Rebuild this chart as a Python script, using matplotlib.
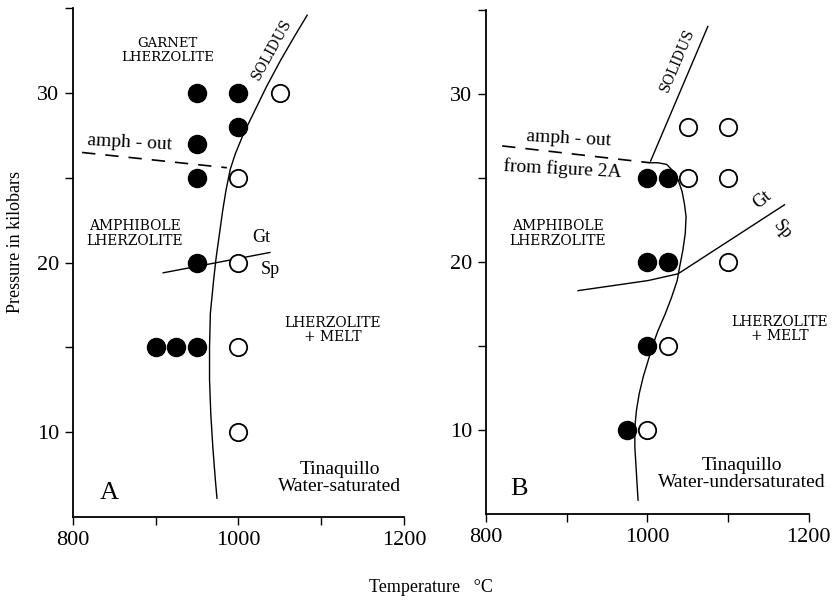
import numpy as np
import matplotlib
matplotlib.use("Agg")
import matplotlib.pyplot as plt

plt.rcParams["font.family"] = ["Liberation Serif", "DejaVu Serif"]
CAPS = ["DejaVu Serif"]

# ---- panel A : water-saturated ----
a_fill_T = [950, 1000, 1000, 950, 950, 950, 900, 925, 950]
a_fill_P = [30, 30, 28, 27, 25, 20, 15, 15, 15]
a_open_T = [1050, 1000, 1000, 1000, 1000]
a_open_P = [30, 25, 20, 15, 10]

a_sol_T = [1083, 1067, 1051, 1034, 1018, 1006, 996, 990, 985, 981, 977, 973, 970,
           966, 965, 965, 966.5, 969, 972, 974]
a_sol_P = [34.6, 33.3, 31.95, 30.4, 28.8, 27.6, 26.4, 25.5, 24.3, 23.1, 21.7, 20.3, 19.0,
           17.0, 15.0, 13.1, 11.1, 9.1, 7.2, 6.1]
a_amph_T = [811, 986]
a_amph_P = [26.5, 25.6]
a_gtsp_T = [909, 1038]
a_gtsp_P = [19.4, 20.6]

# ---- panel B : water-undersaturated ----
b_fill_T = [1000, 1025, 1000, 1025, 1000, 975]
b_fill_P = [25, 25, 20, 20, 15, 10]
b_open_T = [1050, 1100, 1050, 1100, 1100, 1025, 1000]
b_open_P = [28, 28, 25, 25, 20, 15, 10]

b_sol_up_T = [1075, 1004]
b_sol_up_P = [34.0, 26.0]
b_sol_T = [1003, 1013, 1024, 1032, 1038, 1043, 1046, 1048, 1047, 1044, 1040, 1037,
           1030, 1022, 1013, 1007, 1001, 995, 990, 986.5, 984.5, 984.5, 986, 987.5, 988.5]
b_sol_P = [25.9, 25.9, 25.8, 25.4, 24.9, 24.2, 23.45, 22.7, 21.7, 20.7, 19.7, 18.9,
           17.9, 16.9, 15.9, 15.1, 14.15, 13.2, 12.2, 11.2, 10.2, 9.0, 7.8, 6.6, 5.85]
b_amph_T = [820, 1003]
b_amph_P = [26.9, 25.9]
b_gtsp_T = [914, 1001, 1038, 1170]
b_gtsp_P = [18.3, 18.9, 19.3, 23.4]

xticks = [800, 900, 1000, 1100, 1200]
xlabels = ["800", "", "1000", "", "1200"]
yticks = [10, 15, 20, 25, 30, 35]
ylabels = ["10", "", "20", "", "30", ""]

fig = plt.figure(figsize=(8.38, 6.01), dpi=100)
axA = fig.add_axes([0.0871, 0.140, 0.395, 0.846])
axB = fig.add_axes([0.580, 0.144, 0.385, 0.840])


def style(ax):
    ax.set_xlim(800, 1200)
    ax.set_ylim(5, 35)
    for s in ["top", "right"]:
        ax.spines[s].set_visible(False)
    for s in ["left", "bottom"]:
        ax.spines[s].set_linewidth(1.3)
    ax.set_xticks(xticks)
    ax.set_xticklabels(xlabels, fontsize=16)
    ax.set_yticks(yticks)
    ax.set_yticklabels(ylabels, fontsize=16)
    ax.tick_params(length=6, width=1.0, pad=4)


def dots(ax, ft, fp, ot, op):
    ax.plot(ft, fp, "o", ms=13, mfc="black", mec="black", ls="none", zorder=4)
    ax.plot(ot, op, "o", ms=12.5, mfc="white", mec="black", mew=1.3, ls="none", zorder=4)


# panel A
style(axA)
axA.plot(a_sol_T, a_sol_P, color="black", lw=1.0)
axA.plot(a_amph_T, a_amph_P, color="black", lw=1.2, dashes=(8, 6))
axA.plot(a_gtsp_T, a_gtsp_P, color="black", lw=1.0)
dots(axA, a_fill_T, a_fill_P, a_open_T, a_open_P)
axA.text(914, 32.5, "GARNET\nLHERZOLITE", ha="center", va="center", fontsize=9.5,
         linespacing=1.1, family=CAPS)
axA.text(1040, 32.6, "SOLIDUS", ha="center", va="center", fontsize=10, rotation=61, family=CAPS)
axA.text(869, 27.1, "amph - out", ha="center", va="center", fontsize=14, rotation=-3)
axA.text(875, 21.7, "AMPHIBOLE\nLHERZOLITE", ha="center", va="center", fontsize=10,
         linespacing=1.1, family=CAPS)
axA.text(1027, 21.5, "Gt", ha="center", va="center", fontsize=13)
axA.text(1039, 19.6, "Sp", ha="center", va="center", fontsize=13)
axA.text(1114, 16.0, "LHERZOLITE\n+ MELT", ha="center", va="center", fontsize=10,
         linespacing=1.0, family=CAPS)
axA.text(1122, 7.3, "Tinaquillo\nWater-saturated", ha="center", va="center", fontsize=14,
         linespacing=1.05)
axA.text(832, 6.4, "A", ha="left", va="center", fontsize=19)

# panel B
style(axB)
axB.plot(b_sol_up_T, b_sol_up_P, color="black", lw=1.0)
axB.plot(b_sol_T, b_sol_P, color="black", lw=1.0)
axB.plot(b_amph_T, b_amph_P, color="black", lw=1.2, dashes=(8, 6))
axB.plot(b_gtsp_T, b_gtsp_P, color="black", lw=1.0)
dots(axB, b_fill_T, b_fill_P, b_open_T, b_open_P)
axB.text(1037, 32.0, "SOLIDUS", ha="center", va="center", fontsize=10, rotation=67, family=CAPS)
axB.text(903, 27.3, "amph - out", ha="center", va="center", fontsize=14, rotation=-3)
axB.text(895, 25.5, "from figure 2A", ha="center", va="center", fontsize=14, rotation=-3)
axB.text(889, 21.7, "AMPHIBOLE\nLHERZOLITE", ha="center", va="center", fontsize=10,
         linespacing=1.1, family=CAPS)
axB.text(1143, 23.7, "Gt", ha="center", va="center", fontsize=13, rotation=40)
axB.text(1167, 21.9, "Sp", ha="center", va="center", fontsize=13, rotation=-50)
axB.text(1164, 16.0, "LHERZOLITE\n+ MELT", ha="center", va="center", fontsize=10,
         linespacing=1.0, family=CAPS)
axB.text(1117, 7.4, "Tinaquillo\nWater-undersaturated", ha="center", va="center", fontsize=14,
         linespacing=1.05)
axB.text(830, 6.5, "B", ha="left", va="center", fontsize=19)

fig.text(0.018, 0.597, "Pressure in kilobars", rotation=90, ha="center", va="center", fontsize=13)
fig.text(0.514, 0.022, "Temperature   \u00b0C", ha="center", va="center", fontsize=13)

fig.savefig("out.png", dpi=100)
